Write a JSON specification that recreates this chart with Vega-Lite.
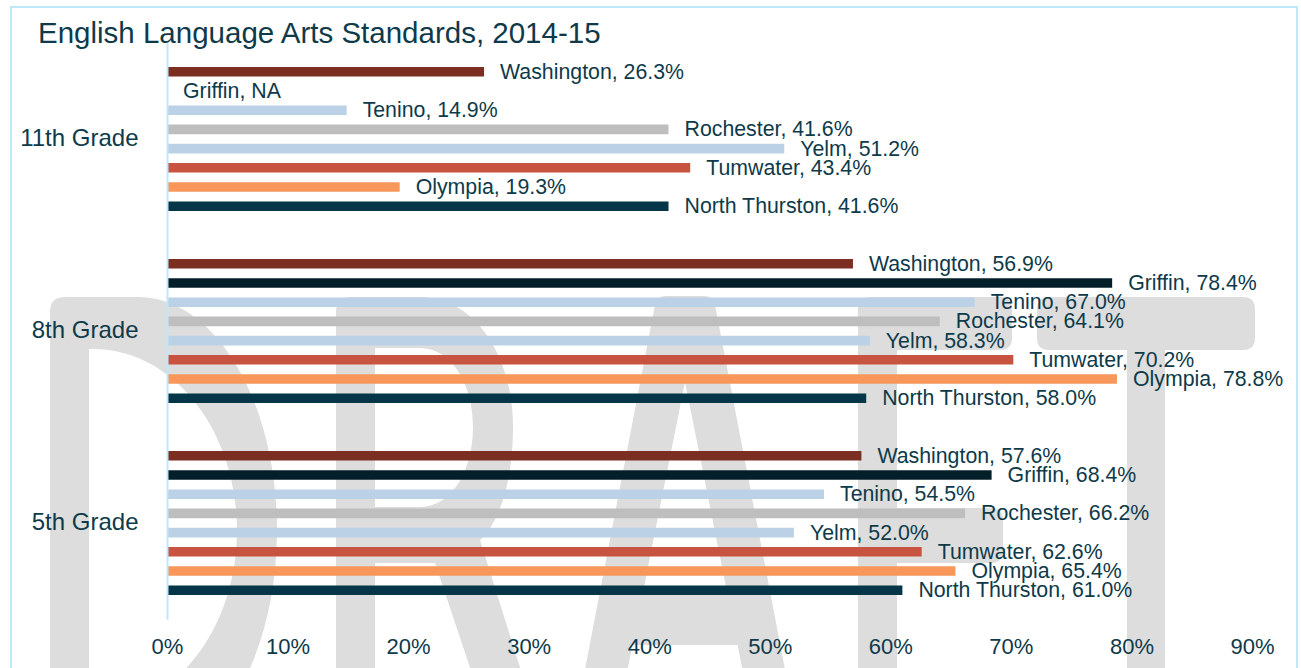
{
  "$schema": "https://vega.github.io/schema/vega-lite/v6.json",
  "width": 1085,
  "height": 576,
  "autosize": {"type": "none"},
  "padding": {"left": 167, "top": 43, "right": 49, "bottom": 49},
  "background": "white",
  "config": {"view": {"stroke": null}, "font": "Liberation Sans"},
  "title": {
    "text": "English Language Arts Standards, 2014-15",
    "anchor": "start",
    "frame": "group",
    "dx": -129,
    "dy": 59,
    "offset": -7,
    "baseline": "alphabetic",
    "fontSize": 29.5,
    "fontWeight": "normal",
    "font": "Liberation Sans",
    "color": "#0E3A4A"
  },
  "data": {
    "values": [
      {"grade": "11th Grade", "district": "Washington", "value": 0.263},
      {"grade": "11th Grade", "district": "Griffin", "value": null},
      {"grade": "11th Grade", "district": "Tenino", "value": 0.149},
      {"grade": "11th Grade", "district": "Rochester", "value": 0.416},
      {"grade": "11th Grade", "district": "Yelm", "value": 0.512},
      {"grade": "11th Grade", "district": "Tumwater", "value": 0.434},
      {"grade": "11th Grade", "district": "Olympia", "value": 0.193},
      {"grade": "11th Grade", "district": "North Thurston", "value": 0.416},
      {"grade": "8th Grade", "district": "Washington", "value": 0.569},
      {"grade": "8th Grade", "district": "Griffin", "value": 0.784},
      {"grade": "8th Grade", "district": "Tenino", "value": 0.670},
      {"grade": "8th Grade", "district": "Rochester", "value": 0.641},
      {"grade": "8th Grade", "district": "Yelm", "value": 0.583},
      {"grade": "8th Grade", "district": "Tumwater", "value": 0.702},
      {"grade": "8th Grade", "district": "Olympia", "value": 0.788},
      {"grade": "8th Grade", "district": "North Thurston", "value": 0.580},
      {"grade": "5th Grade", "district": "Washington", "value": 0.576},
      {"grade": "5th Grade", "district": "Griffin", "value": 0.684},
      {"grade": "5th Grade", "district": "Tenino", "value": 0.545},
      {"grade": "5th Grade", "district": "Rochester", "value": 0.662},
      {"grade": "5th Grade", "district": "Yelm", "value": 0.520},
      {"grade": "5th Grade", "district": "Tumwater", "value": 0.626},
      {"grade": "5th Grade", "district": "Olympia", "value": 0.654},
      {"grade": "5th Grade", "district": "North Thurston", "value": 0.610}
    ]
  },
  "encoding": {
    "y": {
      "field": "grade",
      "type": "nominal",
      "scale": {"domain": ["11th Grade", "8th Grade", "5th Grade"], "paddingInner": 0.2, "paddingOuter": 0.1},
      "axis": {
        "title": null,
        "labelFontSize": 24,
        "labelFont": "Liberation Sans",
        "labelColor": "#0E3A4A",
        "labelPadding": 29,
        "ticks": false,
        "tickSize": 0,
        "domainColor": "#BDE8F8",
        "domainWidth": 2,
        "zindex": 1
      }
    },
    "x": {
      "type": "quantitative",
      "scale": {"domain": [0, 0.9], "nice": false, "zero": true},
      "axis": {
        "title": null,
        "format": ".0%",
        "values": [0, 0.1, 0.2, 0.3, 0.4, 0.5, 0.6, 0.7, 0.8, 0.9],
        "grid": false,
        "domain": false,
        "ticks": false,
        "tickSize": 0,
        "labelFlush": false,
        "labelFontSize": 22,
        "labelFont": "Liberation Sans",
        "labelColor": "#0E3A4A",
        "labelPadding": 17,
        "zindex": 1
      }
    }
  },
  "layer": [
    {
      "data": {"values": [{"item": "frame"}]},
      "mark": {
        "type": "point",
        "shape": "M -157,-325 L 1131,-325 L 1131,349 L 1129,349 L 1129,-323 L -155,-323 L -155,349 L -157,349 Z",
        "size": 4,
        "filled": true,
        "opacity": 1,
        "color": "#BDE8F8"
      },
      "encoding": {
        "x": {"datum": 0, "type": "quantitative"},
        "y": {"datum": "8th Grade", "type": "nominal"}
      }
    },
    {
      "data": {"values": [{"item": "DRAFT"}]},
      "mark": {
        "type": "point",
        "shape": "M -117,-19 Q -117,-34 -102,-34 L -29,-34 C 48,-34 110,70 110,199 C 110,328 48,432 -29,432 L -102,432 Q -117,432 -117,417 Z M -78,18 L -78,380 L -74,380 C 6,380 70,299 70,199 C 70,99 6,18 -74,18 Z M 169,-19 Q 169,-34 184,-34 L 253,-34 C 305,-34 346,21 346,96 C 346,149 333,191 313,209 L 383,432 L 335,432 L 268,232 L 208,232 L 208,432 L 169,432 Z M 208,17 L 208,176 L 253,176 C 285,176 306,139 306,96 C 306,54 285,17 253,17 Z M 400,432 L 488,-26 Q 490,-35 499,-35 L 537,-35 Q 546,-35 548,-26 L 636,432 L 594,432 L 570.6,314 L 465.4,314 L 442,432 Z M 518,51 L 475.8,262 L 560.2,262 Z M 691,-22 Q 691,-34 703,-34 L 833,-34 Q 845,-34 845,-22 L 845,7 Q 845,19 833,19 L 730,19 L 730,177 L 824,177 Q 836,177 836,189 L 836,220 Q 836,232 824,232 L 730,232 L 730,432 L 691,432 Z M 882,-34 L 1076,-34 Q 1088,-34 1088,-22 L 1088,7 Q 1088,19 1076,19 L 998,19 L 998,432 L 960,432 L 960,19 L 882,19 Q 870,19 870,7 L 870,-22 Q 870,-34 882,-34 Z",
        "size": 4,
        "filled": true,
        "opacity": 1,
        "color": "#DDDDDD"
      },
      "encoding": {
        "x": {"datum": 0, "type": "quantitative"},
        "y": {"datum": "8th Grade", "type": "nominal"}
      }
    },
    {
      "mark": {"type": "bar"},
      "encoding": {
        "x": {"field": "value", "type": "quantitative"},
        "yOffset": {
          "field": "district",
          "type": "nominal",
          "scale": {
            "domain": ["Washington", "Griffin", "Tenino", "Rochester", "Yelm", "Tumwater", "Olympia", "North Thurston"],
            "paddingInner": 0.5,
            "paddingOuter": 0.25
          }
        },
        "color": {
          "field": "district",
          "type": "nominal",
          "scale": {
            "domain": ["Washington", "Griffin", "Tenino", "Rochester", "Yelm", "Tumwater", "Olympia", "North Thurston"],
            "range": ["#7B2E22", "#03202A", "#BAD1E6", "#BEBEBE", "#BAD1E6", "#C75441", "#F7975A", "#053647"]
          },
          "legend": null
        }
      }
    },
    {
      "transform": [
        {"calculate": "datum.value == null ? 0 : datum.value", "as": "labelPos"},
        {"calculate": "datum.district + ', ' + (datum.value == null ? 'NA' : format(datum.value, '.1%'))", "as": "label"}
      ],
      "mark": {
        "type": "text",
        "align": "left",
        "baseline": "middle",
        "dx": 16,
        "dy": 1,
        "fontSize": 21.3,
        "font": "Liberation Sans",
        "color": "#0E3A4A"
      },
      "encoding": {
        "x": {"field": "labelPos", "type": "quantitative"},
        "yOffset": {
          "field": "district",
          "type": "nominal",
          "scale": {
            "domain": ["Washington", "Griffin", "Tenino", "Rochester", "Yelm", "Tumwater", "Olympia", "North Thurston"],
            "paddingInner": 0.5,
            "paddingOuter": 0.25
          }
        },
        "text": {"field": "label"}
      }
    }
  ]
}
